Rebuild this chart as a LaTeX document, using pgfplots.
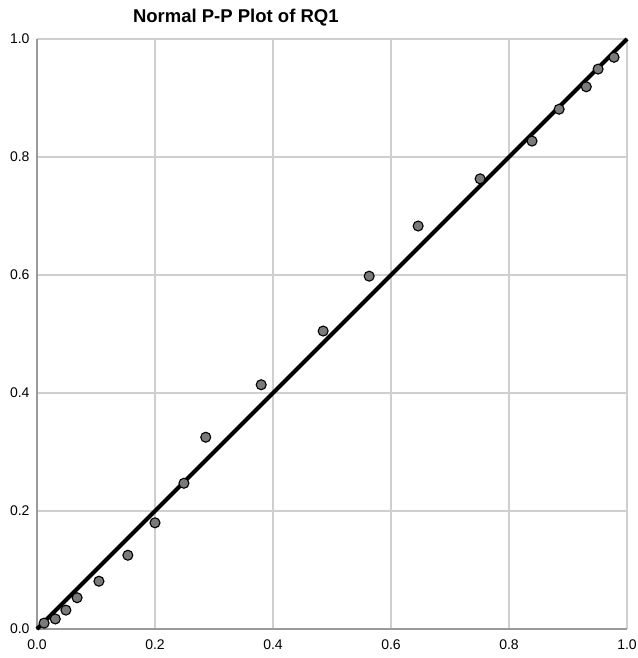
\documentclass[border=0pt]{standalone}
\usepackage{fontspec}
\setmainfont{Liberation Sans}
\usepackage{pgfplots}
\pgfplotsset{compat=1.18}
\definecolor{ptfill}{HTML}{7A7A7A}
\definecolor{gridc}{HTML}{CFCFCF}
\definecolor{axc}{HTML}{9A9A9A}

\pgfplotstableread{
x y
0.012 0.010
0.031 0.017
0.049 0.032
0.068 0.053
0.105 0.081
0.154 0.125
0.200 0.180
0.249 0.247
0.286 0.325
0.380 0.414
0.485 0.505
0.563 0.598
0.646 0.683
0.751 0.763
0.839 0.827
0.885 0.881
0.931 0.919
0.951 0.949
0.978 0.969
}\rqone

\begin{document}
\begin{tikzpicture}
\path[use as bounding box] (-37pt,-29pt) rectangle (600pt,629pt);
\begin{axis}[
  scale only axis, width=590pt, height=590pt,
  xmin=0, xmax=1, ymin=0, ymax=1,
  xtick={0,0.2,...,1.0}, ytick={0,0.2,...,1.0},
  /pgf/number format/fixed,
  /pgf/number format/fixed zerofill,
  /pgf/number format/precision=1,
  /pgf/number format/assume math mode=true,
  tick label style={font=\fontsize{14}{16}\selectfont},
  x tick label style={yshift=-7pt},
  y tick label style={xshift=-4pt},
  major tick length=0pt,
  grid=major, major grid style={gridc, line width=1.2pt},
  axis line style={draw=none},
  title={\textbf{Normal P-P Plot of RQ1}},
  title style={font=\fontsize{18.5}{20}\selectfont, at={(0.337,1)}, anchor=base, yshift=10pt},
  clip=false,
]
\draw[gridc, line width=1.2pt] (rel axis cs:0,1) -- (rel axis cs:1,1) -- (rel axis cs:1,0);
\draw[axc, line width=1.6pt] (rel axis cs:0,1) -- (rel axis cs:0,0) -- (rel axis cs:1,0);
\addplot[black, line width=4pt, no marks] coordinates {(0,0) (1,1)};
\addplot[only marks, mark=*, mark size=5pt, mark options={fill=ptfill, draw=black, line width=1.1pt}] table[x=x, y=y] {\rqone};
\end{axis}
\end{tikzpicture}
\end{document}
